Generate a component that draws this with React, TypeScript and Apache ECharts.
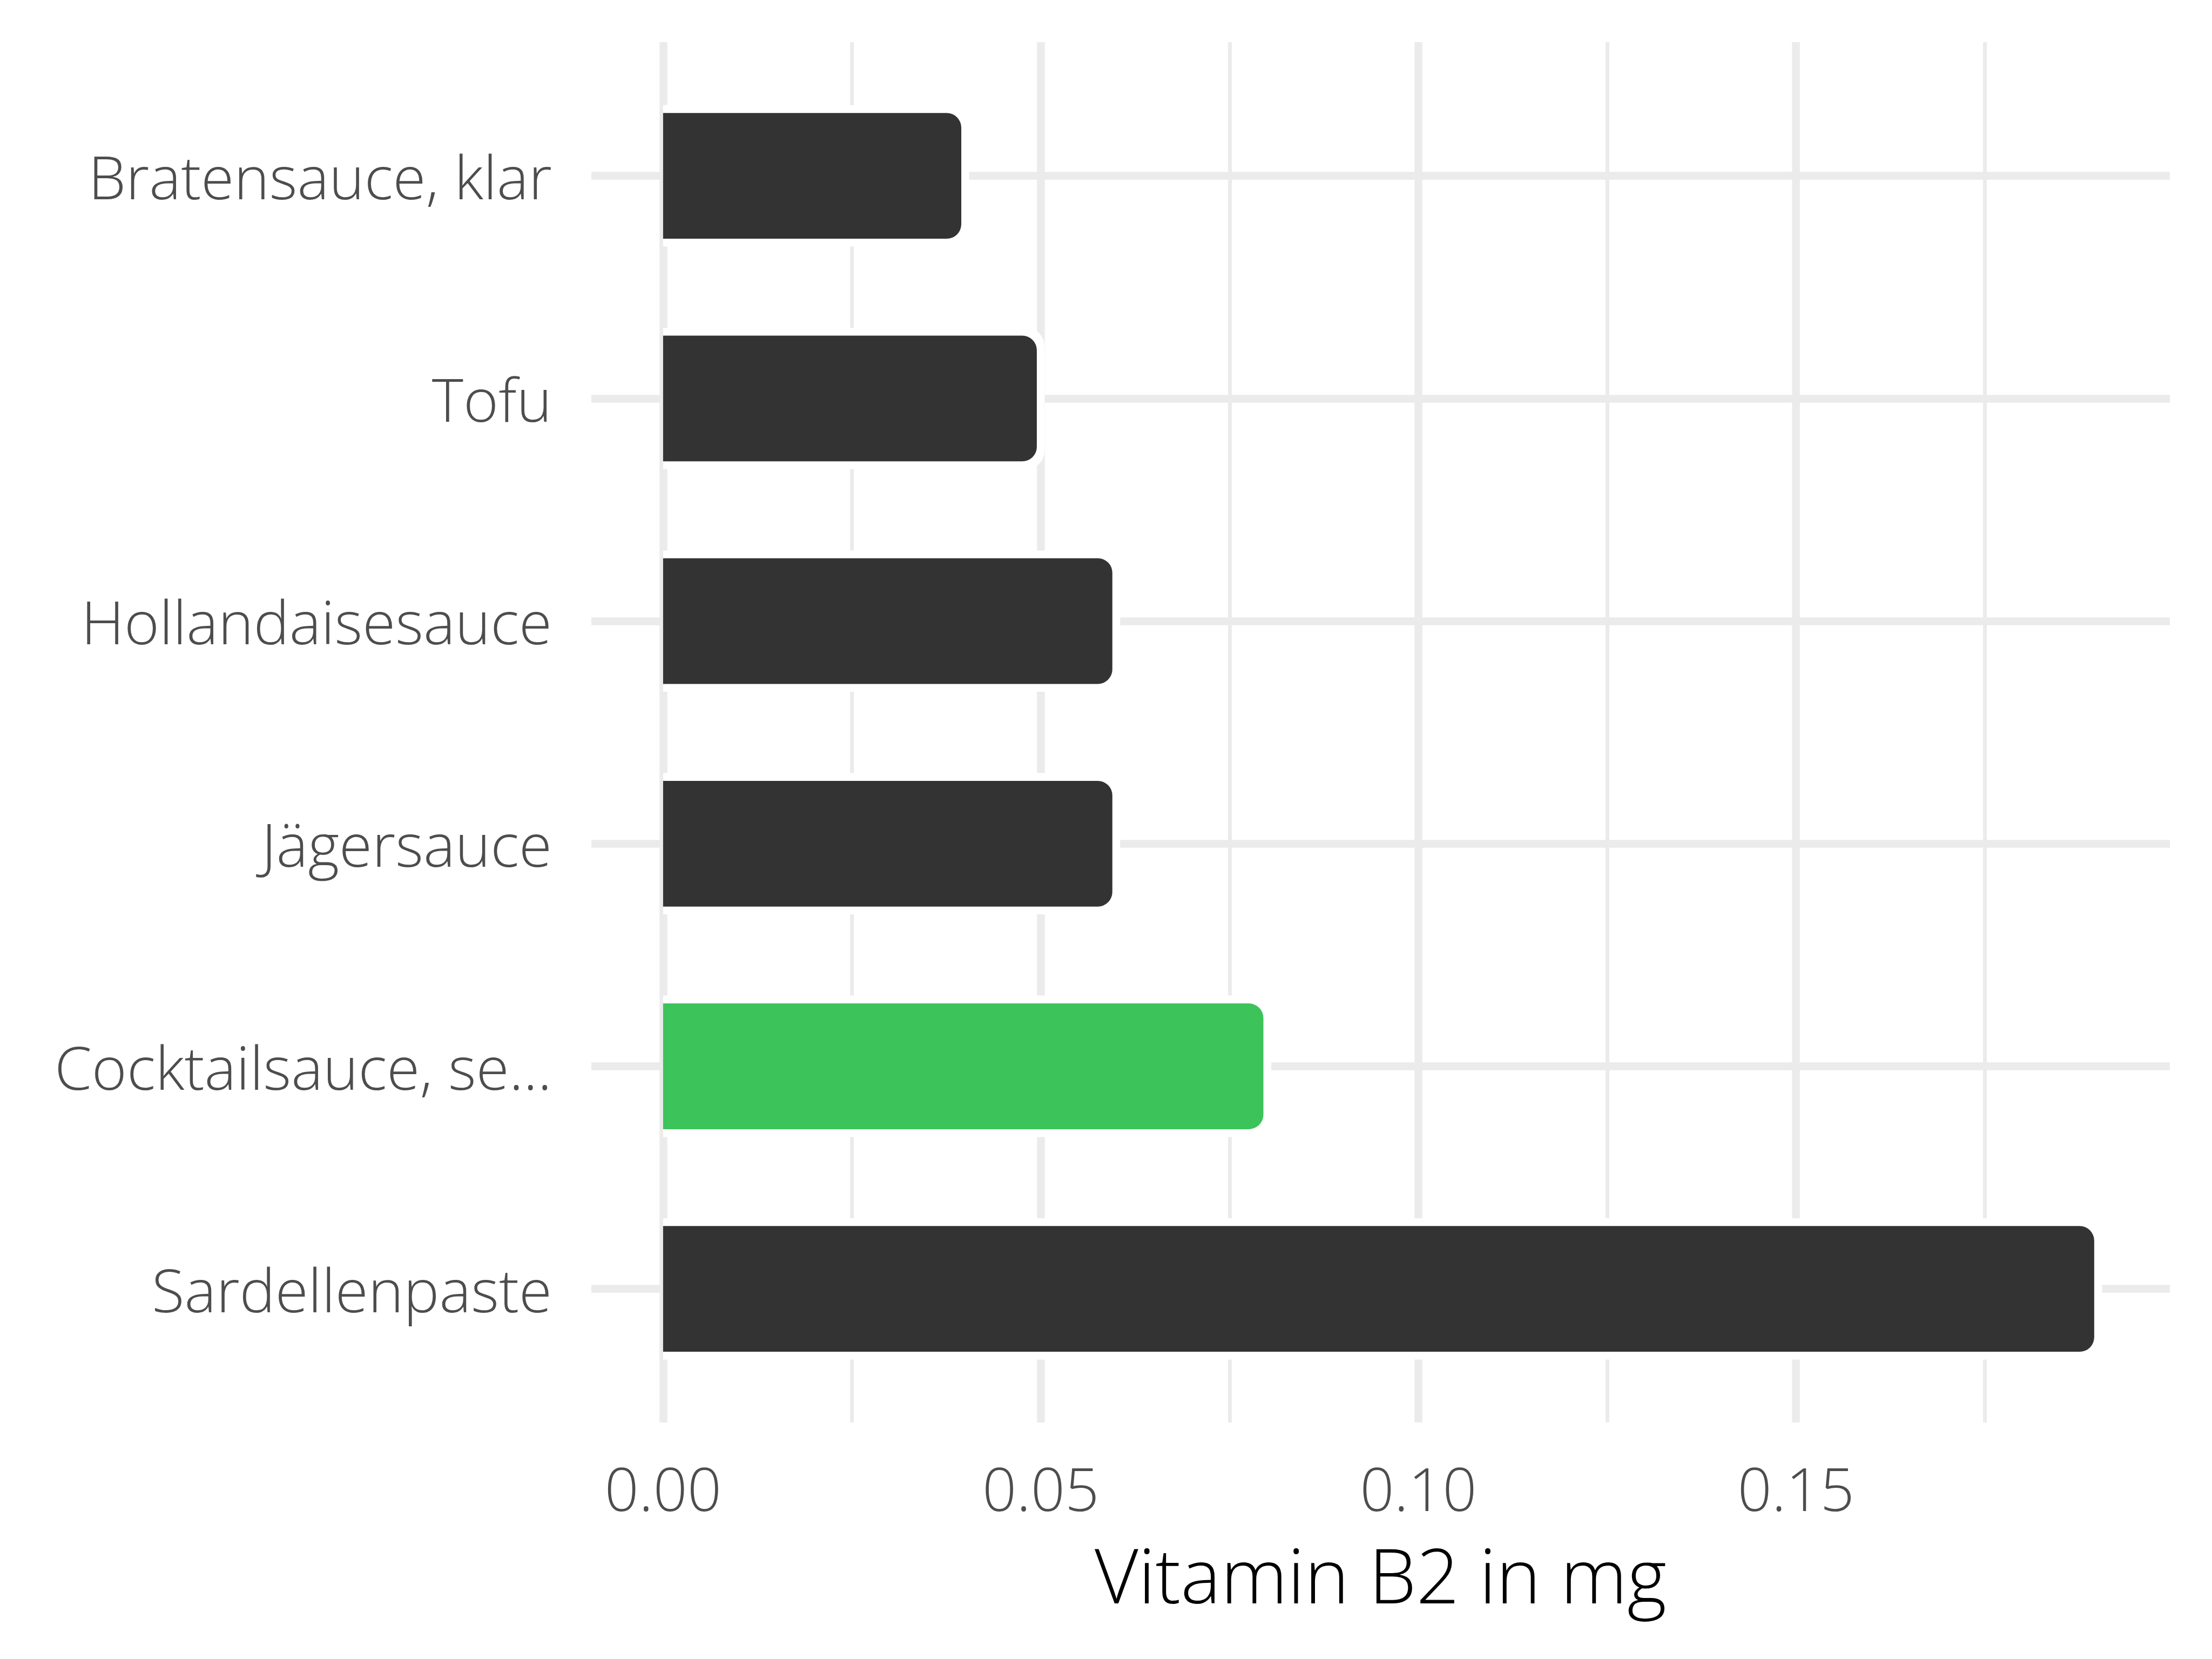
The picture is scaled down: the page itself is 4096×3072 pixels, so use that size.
import React, { useEffect, useRef } from "react";
import * as echarts from "echarts";

const categories = [
  "Bratensauce, klar",
  "Tofu",
  "Hollandaisesauce",
  "Jägersauce",
  "Cocktailsauce, se...",
  "Sardellenpaste",
];
const values = [0.04, 0.05, 0.06, 0.06, 0.08, 0.19];
const highlighted = "Cocktailsauce, se...";
const xTickLabels = [0, 0.05, 0.1, 0.15];
const majorGrid = [0, 0.05, 0.1, 0.15];
const minorGrid = [0.025, 0.075, 0.125, 0.175];
const xMin = -0.0095;
const xMax = 0.1995;
const axisTitle = "Vitamin B2 in mg";

const FONT = "'Open Sans', 'Noto Sans', sans-serif";
const BAR = "#333333";
const GREEN = "#3cc35a";
const GRID = "#ebebeb";

export default function App() {
  const ref = useRef<HTMLDivElement>(null);
  useEffect(() => {
    document.body.style.margin = "0";
    const chart = echarts.init(ref.current!, null, { renderer: "svg" });
    const panelLeft = 1095;
    const panelRight = 78;
    const panelTop = 78;
    const panelHeight = 2556;
    const band = 412.2;
    const firstCenter = 325.7;
    const barsTop = firstCenter - band / 2;
    const s = 7.25;
    const R = 27;

    const barData = values.map((v, i) => ({
      value: [v, i],
      itemStyle: { color: categories[i] === highlighted ? GREEN : BAR },
    }));

    chart.setOption({
      animation: false,
      backgroundColor: "#ffffff",
      grid: [
        { left: panelLeft, right: panelRight, top: panelTop, height: panelHeight },
        { left: panelLeft, right: panelRight, top: barsTop, height: band * categories.length },
      ],
      xAxis: [
        {
          type: "value",
          gridIndex: 0,
          min: xMin,
          max: xMax,
          splitLine: { show: false },
          axisLine: { show: false },
          axisTick: { show: false },
          axisLabel: {
            customValues: xTickLabels,
            formatter: (v: number) => v.toFixed(2),
            color: "#4d4d4d",
            fontFamily: FONT,
            fontWeight: 300,
            fontSize: 111,
            lineHeight: 111,
            margin: 65,
          },
          name: axisTitle,
          nameLocation: "middle",
          nameGap: 210,
          nameTextStyle: {
            color: "#000000",
            fontFamily: FONT,
            fontWeight: 300,
            fontSize: 140,
            lineHeight: 140,
          },
        },
        {
          type: "value",
          gridIndex: 1,
          min: xMin,
          max: xMax,
          show: false,
        },
      ],
      yAxis: [
        { type: "value", gridIndex: 0, min: 0, max: 1, show: false },
        {
          type: "category",
          gridIndex: 1,
          data: categories,
          inverse: true,
          axisLine: { show: false, onZero: false },
          axisTick: { show: false },
          splitLine: { show: false },
          axisLabel: {
            color: "#4d4d4d",
            fontFamily: FONT,
            fontWeight: 300,
            fontSize: 111,
            lineHeight: 111,
            margin: 73,
          },
        },
      ],
      series: [
        {
          type: "line",
          xAxisIndex: 0,
          yAxisIndex: 0,
          data: [],
          z: 0,
          silent: true,
          markLine: {
            silent: true,
            z: 0,
            precision: 6,
            symbol: "none",
            label: { show: false },
            animation: false,
            data: [
              ...majorGrid.map((v) => ({ xAxis: v, lineStyle: { color: GRID, width: 14.5, type: "solid" } })),
              ...minorGrid.map((v) => ({ xAxis: v, lineStyle: { color: GRID, width: 7, type: "solid" } })),
            ],
          },
        },
        {
          type: "line",
          xAxisIndex: 1,
          yAxisIndex: 1,
          data: [],
          z: 0,
          silent: true,
          markLine: {
            silent: true,
            z: 0,
            symbol: "none",
            label: { show: false },
            animation: false,
            data: categories.map((c) => ({ yAxis: c, lineStyle: { color: GRID, width: 14.5, type: "solid" } })),
          },
        },
        {
          type: "custom",
          xAxisIndex: 1,
          yAxisIndex: 1,
          z: 2,
          encode: { x: 0, y: 1 },
          data: barData,
          renderItem: (params: any, api: any) => {
            const v = api.value(0);
            const c = api.value(1);
            const p0 = api.coord([0, c]);
            const p1 = api.coord([v, c]);
            const bandH = api.size([0, 1])[1];
            const h = bandH * 0.6;
            const x0 = p0[0];
            const x1 = p1[0];
            const yc = p0[1];
            const color = api.visual("color");
            return {
              type: "group",
              children: [
                {
                  type: "rect",
                  shape: { x: x0, y: yc - h / 2 - s, width: x1 - x0 + s, height: h + 2 * s, r: [0, R + s, R + s, 0] },
                  style: { fill: "#ffffff" },
                },
                {
                  type: "rect",
                  shape: { x: x0, y: yc - h / 2 + s, width: x1 - x0 - s, height: h - 2 * s, r: [0, R, R, 0] },
                  style: { fill: color },
                },
              ],
            };
          },
        },
      ],
    });
    return () => chart.dispose();
  }, []);
  return <div ref={ref} style={{ position: "fixed", left: 0, top: 0, width: 4096, height: 3072 }} />;
}
